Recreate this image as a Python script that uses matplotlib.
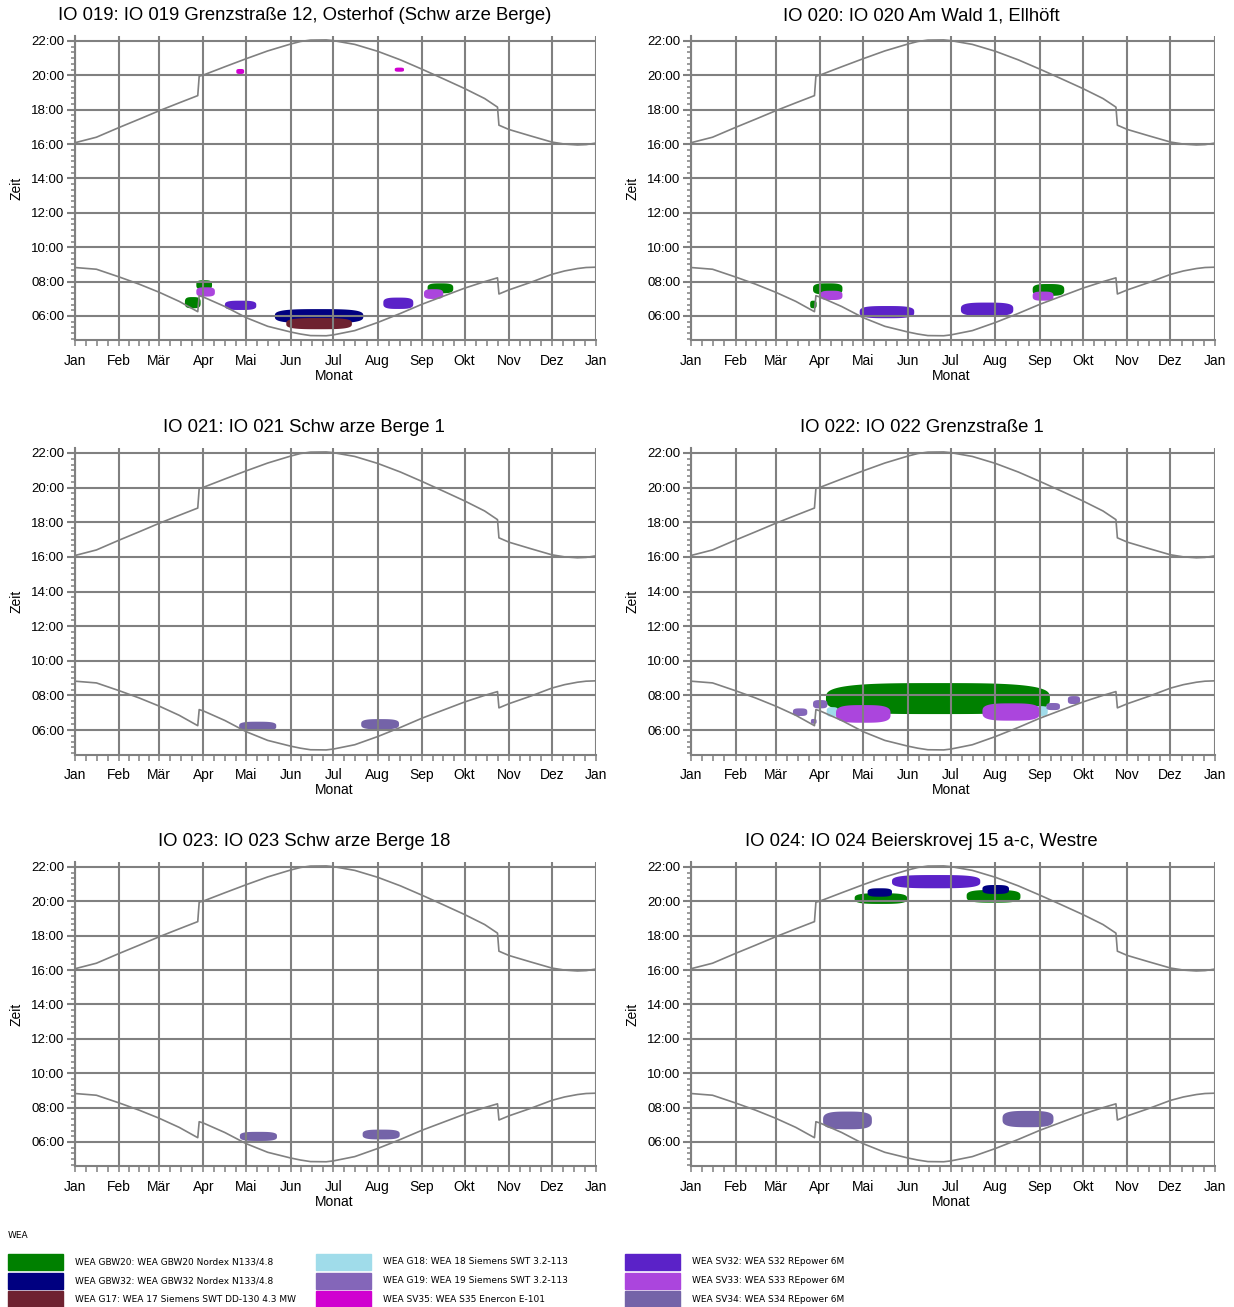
import numpy as np
import matplotlib
matplotlib.use('Agg')
import matplotlib.pyplot as plt
from matplotlib.patches import Rectangle
from matplotlib.ticker import FixedLocator, MultipleLocator, FuncFormatter

plt.rcParams['font.family'] = ['Liberation Sans', 'DejaVu Sans']

# Monate (Tag im Jahr des Monatsanfangs)
month_labels = ['Jan', 'Feb', 'Mär', 'Apr', 'Mai', 'Jun', 'Jul', 'Aug', 'Sep', 'Okt', 'Nov', 'Dez', 'Jan']
month_starts = [0, 31, 59, 90, 120, 151, 181, 212, 243, 273, 304, 334, 365]

# Sonnenuntergang / Sonnenaufgang (Stunden)
sun_days = [0, 15, 31, 45, 59, 73, 86, 87, 90, 105, 120, 135, 151, 158, 165, 176, 181, 196,
            212, 228, 243, 258, 273, 287, 296, 297, 304, 319, 334, 343, 352, 358, 365]
sunset = [16.08, 16.40, 16.97, 17.45, 17.94, 18.40, 18.82, 19.95, 20.02, 20.50, 20.97,
          21.42, 21.82, 21.97, 22.05, 22.06, 22.02, 21.80, 21.40, 20.90, 20.36, 19.80,
          19.23, 18.65, 18.15, 17.10, 16.85, 16.48, 16.12, 16.00, 15.95, 15.97, 16.06]
sunrise = [8.82, 8.72, 8.27, 7.85, 7.38, 6.85, 6.25, 7.18, 7.10, 6.55, 5.90, 5.40,
           5.07, 4.95, 4.86, 4.85, 4.90, 5.15, 5.62, 6.15, 6.68, 7.15, 7.62, 8.00,
           8.22, 7.28, 7.52, 7.95, 8.42, 8.62, 8.76, 8.82, 8.84]

# WEA (Legende)
wea_keys = ['GBW20', 'GBW32', 'G17', 'G18', 'G19', 'SV35', 'SV32', 'SV33', 'SV34']
wea_names = ['WEA GBW20: WEA GBW20 Nordex N133/4.8',
             'WEA GBW32: WEA GBW32 Nordex N133/4.8',
             'WEA G17: WEA 17 Siemens SWT DD-130 4.3 MW',
             'WEA G18: WEA 18 Siemens SWT 3.2-113',
             'WEA G19: WEA 19 Siemens SWT 3.2-113',
             'WEA SV35: WEA S35 Enercon E-101',
             'WEA SV32: WEA S32 REpower 6M',
             'WEA SV33: WEA S33 REpower 6M',
             'WEA SV34: WEA S34 REpower 6M']
wea_colors = ['#008000', '#000080', '#6e2230', '#a0dcea', '#8466b9',
              '#d000d0', '#5b22c8', '#ab45dd', '#7463a8']

titles = ['IO 019: IO 019 Grenzstraße 12, Osterhof (Schw arze Berge)',
          'IO 020: IO 020 Am Wald 1, Ellhöft',
          'IO 021: IO 021 Schw arze Berge 1',
          'IO 022: IO 022 Grenzstraße 1',
          'IO 023: IO 023 Schw arze Berge 18',
          'IO 024: IO 024 Beierskrovej 15 a-c, Westre']

# Schattenwurf-Bereiche: (WEA, Tag von, Tag bis, Uhrzeit von, Uhrzeit bis)
shadow_io019 = [('GBW20', 85, 96, 7.55, 8.08), ('GBW20', 77, 88, 6.45, 7.10),
                ('GBW20', 247, 265, 7.32, 7.90), ('GBW32', 140, 202, 5.58, 6.40),
                ('G17', 148, 194, 5.23, 5.88), ('SV35', 113, 118.5, 20.08, 20.37),
                ('SV35', 224, 230.5, 20.21, 20.45), ('SV32', 105, 127, 6.35, 6.89),
                ('SV32', 216, 237, 6.41, 7.07), ('SV33', 85, 98, 7.13, 7.67),
                ('SV33', 244.5, 258, 6.99, 7.56)]
shadow_io020 = [('GBW20', 85, 105.5, 7.25, 7.90), ('GBW20', 83, 87.5, 6.45, 6.89),
                ('GBW20', 238, 260, 7.17, 7.86), ('SV32', 117.5, 155.5, 5.87, 6.58),
                ('SV32', 188, 224.5, 6.00, 6.78), ('SV33', 90, 105.5, 6.93, 7.47),
                ('SV33', 238, 252.5, 6.89, 7.42)]
shadow_io021 = [('SV34', 115, 141, 5.96, 6.48), ('SV34', 200.5, 227, 6.04, 6.63)]
shadow_io022 = [('GBW20', 94, 250, 6.92, 8.71), ('G18', 94.5, 102.5, 6.77, 7.32),
                ('G18', 238, 248.5, 6.81, 7.38), ('G19', 71, 81, 6.81, 7.25),
                ('G19', 85, 95, 7.25, 7.73), ('G19', 83.5, 87.5, 6.36, 6.64),
                ('G19', 247.5, 257, 7.15, 7.56), ('G19', 262.5, 271, 7.50, 7.96),
                ('SV33', 101, 139, 6.42, 7.44), ('SV33', 203, 243, 6.54, 7.54)]
shadow_io023 = [('SV34', 115.5, 141.5, 6.06, 6.59), ('SV34', 201.5, 227.5, 6.15, 6.72)]
shadow_io024 = [('GBW20', 114, 150.5, 19.85, 20.47), ('GBW20', 192, 229.5, 19.92, 20.66),
                ('GBW32', 123, 140, 20.27, 20.76), ('GBW32', 203, 221.5, 20.43, 20.95),
                ('SV32', 140, 201.5, 20.76, 21.53), ('SV34', 92, 126, 6.74, 7.77),
                ('SV34', 217, 252.5, 6.86, 7.81)]
shadows = [shadow_io019, shadow_io020, shadow_io021, shadow_io022, shadow_io023, shadow_io024]

GRAY = '#808080'


def draw_blob(ax, d0, d1, t0, t1, color, z):
    th = np.linspace(0, 2 * np.pi, 160)
    c, s = np.cos(th), np.sin(th)
    p = 3.3
    xs = (d0 + d1) / 2 + (d1 - d0) / 2 * np.sign(c) * np.abs(c) ** (2 / p)
    ys = (t0 + t1) / 2 + (t1 - t0) / 2 * np.sign(s) * np.abs(s) ** (2 / p)
    ax.fill(xs, ys, color=color, lw=0, zorder=z)


fig = plt.figure(figsize=(12.34, 13.07), dpi=100)
W, H = 1234.0, 1307.0
col_px = [(75, 521), (691, 524)]
row_px = [(35.8, 340.4), (447.8, 754.6), (861.8, 1166.4)]

for i in range(6):
    r, cidx = i // 2, i % 2
    x0, w = col_px[cidx]
    top, bot = row_px[r]
    ax = fig.add_axes([x0 / W, 1 - bot / H, w / W, (bot - top) / H])
    ax.set_xlim(0, 365)
    ax.set_ylim(4.58, 22.3)

    ax.plot(sun_days, sunset, color=GRAY, lw=1.2, zorder=2)
    ax.plot(sun_days, sunrise, color=GRAY, lw=1.2, zorder=2)

    order = {k: n for n, k in enumerate(wea_keys)}
    for key, d0, d1, t0, t1 in sorted(shadows[i], key=lambda b: order[b[0]]):
        draw_blob(ax, d0, d1, t0, t1, wea_colors[order[key]], 1 + order[key] * 0.01)

    ax.xaxis.set_major_locator(FixedLocator(month_starts))
    ax.set_xticklabels(month_labels)
    minors = []
    for a, b in zip(month_starts[:-1], month_starts[1:]):
        minors += [a + (b - a) * k / 4 for k in (1, 2, 3)]
    ax.xaxis.set_minor_locator(FixedLocator(minors))
    ax.yaxis.set_major_locator(FixedLocator([6, 8, 10, 12, 14, 16, 18, 20, 22]))
    ax.yaxis.set_major_formatter(FuncFormatter(lambda v, pos: '%02d:00' % int(round(v))))
    ax.yaxis.set_minor_locator(MultipleLocator(1 / 3))

    ax.grid(True, which='major', color=GRAY, lw=1.5)
    ax.set_axisbelow(False)
    for sp in ['top', 'right']:
        ax.spines[sp].set_visible(False)
    for sp in ['left', 'bottom']:
        ax.spines[sp].set_color(GRAY)
        ax.spines[sp].set_linewidth(1.5)
    ax.tick_params(axis='x', which='both', direction='out', length=4.5, width=1.1,
                   color=GRAY, pad=5, labelsize=10)
    ax.tick_params(axis='y', which='major', direction='out', length=6, width=1.5,
                   color=GRAY, pad=1.5, labelsize=9.5)
    ax.tick_params(axis='y', which='minor', direction='out', length=3, width=1.1, color=GRAY)

    ax.set_xlabel('Monat', fontsize=10)
    ax.xaxis.set_label_coords(0.497, -0.093)
    ax.set_ylabel('Zeit', fontsize=10)
    ax.yaxis.set_label_coords(-0.098, 0.5)
    ax.text(0.44, 1 + 20.0 / (bot - top), titles[i], transform=ax.transAxes,
            ha='center', va='center', fontsize=13.3)

# Legende
fig.text(8 / W, 1 - 1235 / H, 'WEA', fontsize=6.5, family='DejaVu Sans', va='center')
leg_x = [8, 316, 625]
leg_y = [1262, 1280.5, 1299]
for n, name in enumerate(wea_names):
    cx, ry = leg_x[n // 3], leg_y[n % 3]
    fig.patches.append(Rectangle((cx / W, 1 - (ry + 8) / H), 55 / W, 16 / H,
                                 transform=fig.transFigure, color=wea_colors[n]))
    fig.text((cx + 67) / W, 1 - ry / H, name, fontsize=6.5, family='DejaVu Sans', va='center')

fig.savefig('out.png', dpi=100)
